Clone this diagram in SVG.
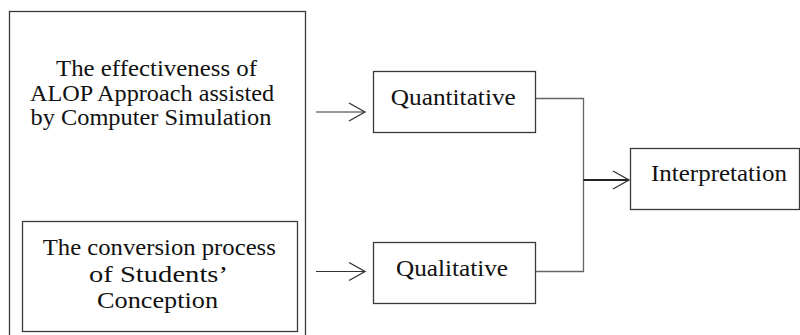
<svg xmlns="http://www.w3.org/2000/svg" width="800" height="335" viewBox="0 0 800 335">
<style>
.box{fill:#fff;stroke:#3a3a3a;stroke-width:1.3}
.t{font-family:'Liberation Serif','Times New Roman',serif;font-size:22.5px;fill:#111;text-anchor:middle}
.c{fill:none;stroke:#666;stroke-width:1.3}
.a{fill:none;stroke:#333;stroke-width:1.2}
</style>
<defs>
<marker id="ah" markerUnits="userSpaceOnUse" viewBox="-18 -10 20 20" refX="0" refY="0" markerWidth="20" markerHeight="20" orient="auto" overflow="visible">
<path d="M-16,-9 L0,0 L-16,9" fill="none" stroke="#333" stroke-width="1.3"/>
</marker>
</defs>
<g id="outer">
<rect class="box" x="9.5" y="11.5" width="296" height="330"/>
<text class="t" x="156.5" y="75.5" textLength="201" lengthAdjust="spacingAndGlyphs">The effectiveness of</text>
<text class="t" x="152" y="100.5" textLength="244" lengthAdjust="spacingAndGlyphs">ALOP  Approach assisted</text>
<text class="t" x="151" y="125" textLength="241" lengthAdjust="spacingAndGlyphs">by Computer Simulation</text>
</g>
<g id="conversion">
<rect class="box" x="22.5" y="221.5" width="275" height="110"/>
<text class="t" x="159.3" y="255" textLength="233" lengthAdjust="spacingAndGlyphs">The conversion process</text>
<text class="t" x="158.5" y="281.5" textLength="139" lengthAdjust="spacingAndGlyphs">of Students’</text>
<text class="t" x="157.5" y="308" textLength="121" lengthAdjust="spacingAndGlyphs">Conception</text>
</g>
<g id="quantitative">
<rect class="box" x="373.5" y="71.5" width="162" height="61"/>
<text class="t" x="453.3" y="105" textLength="125" lengthAdjust="spacingAndGlyphs">Quantitative</text>
</g>
<g id="qualitative">
<rect class="box" x="373.5" y="242.5" width="162" height="61"/>
<text class="t" x="452" y="276" textLength="112" lengthAdjust="spacingAndGlyphs">Qualitative</text>
</g>
<g id="interpretation">
<rect class="box" x="630.5" y="148.5" width="169" height="61"/>
<text class="t" x="719" y="181" textLength="136" lengthAdjust="spacingAndGlyphs">Interpretation</text>
</g>
<g id="connectors">
<line class="a" x1="316" y1="112" x2="365" y2="112" marker-end="url(#ah)"/>
<line class="a" x1="316" y1="271.5" x2="365" y2="271.5" marker-end="url(#ah)"/>
<polyline class="c" points="536,98.5 583.5,98.5 583.5,271.5 536,271.5"/>
<line x1="583.5" y1="180" x2="629" y2="180" stroke="#222" stroke-width="2" marker-end="url(#ah)"/>
</g>
</svg>
